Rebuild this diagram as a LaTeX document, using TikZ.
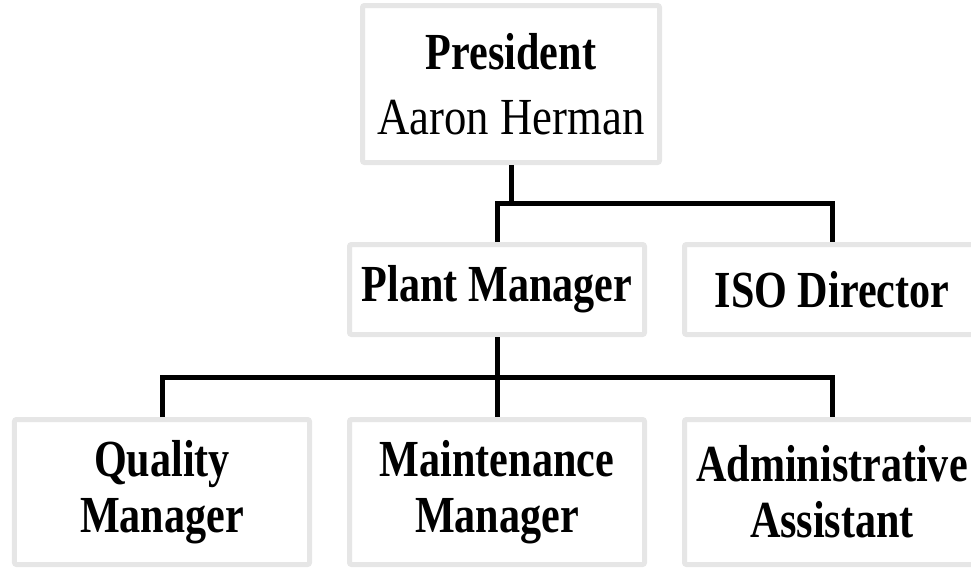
\documentclass[tikz,border=0pt]{standalone}
\usepackage{fontspec}
\setmainfont{Liberation Serif}[UprightFeatures={FakeStretch=0.86},BoldFeatures={FakeStretch=0.81}]
\usepackage{tikz}
\usetikzlibrary{positioning}
\definecolor{boxgray}{RGB}{230,230,230}

\tikzset{
  orgbox/.style={draw=boxgray, line width=0.125cm, fill=white, rounded corners=0.05cm,
    minimum width=7.375cm, align=center, inner sep=0pt,
    font=\fontsize{37}{40}\selectfont},
  link/.style={draw=black, line width=0.125cm}
}

\begin{document}
\begin{tikzpicture}[node distance=2cm]
            \useasboundingbox (0,0) rectangle (24.275,-14.225);

            % Top
            \node[orgbox, minimum width=7.425cm, minimum height=3.925cm,
                  font=\fontsize{37}{46}\selectfont] (pres) at (12.775,-2.1)
                {\textbf{President}\\Aaron Herman};

            % Second row
            \node[orgbox, minimum height=2.25cm, below=1.925cm of pres, xshift=-0.35cm] (plant)
                {\textbf{Plant Manager}};
            \node[orgbox, minimum height=2.25cm, right=0.875cm of plant] (iso)
                {\textbf{ISO Director}};

            % Third row
            \node[orgbox, minimum height=3.625cm, below=2cm of plant] (maint)
                {\textbf{Maintenance}\\\textbf{Manager}};
            \node[orgbox, minimum height=3.625cm, left=0.875cm of maint] (qual)
                {\textbf{Quality}\\\textbf{Manager}};
            \node[orgbox, minimum height=3.625cm, right=0.875cm of maint] (admin)
                {\textbf{Administrative}\\\textbf{Assistant}};

            % Connectors
            \path (plant.north) ++(0,0.975) coordinate (bar1);
            \draw[link] (pres.south) -- (pres.south |- bar1);
            \draw[link] (plant.north) -- (bar1) -| (iso.north);

            \path (plant.south) ++(0,-1) coordinate (bar2);
            \draw[link] (plant.south) -- (maint.north);
            \draw[link] (qual.north) |- (bar2) -| (admin.north);
        \end{tikzpicture}
\end{document}
